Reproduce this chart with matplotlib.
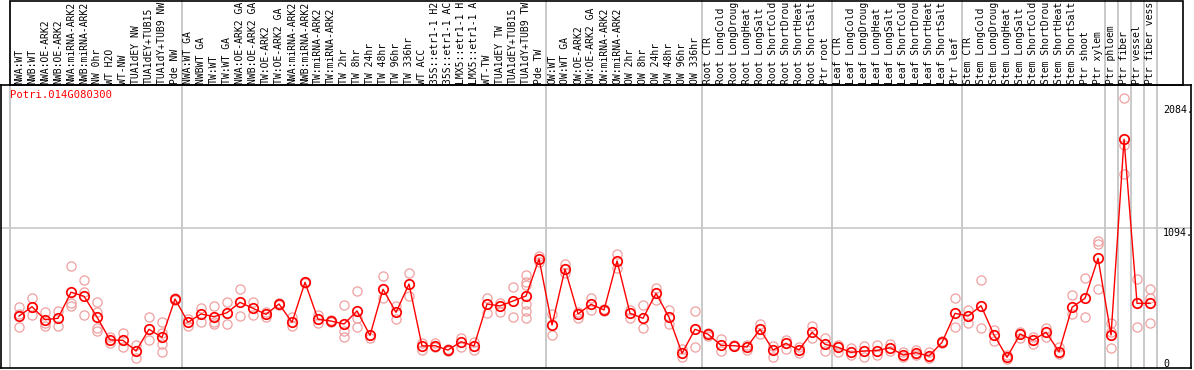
"""
Potri.014G080300 expression profile across poplar samples
(mean line + replicate circles, eFP-style pixel layout)
"""
import matplotlib
matplotlib.use('Agg')
import matplotlib.pyplot as plt
import matplotlib.transforms as mtransforms
from matplotlib.patches import Rectangle

matplotlib.rcParams['font.family'] = 'DejaVu Sans Mono'
matplotlib.rcParams['font.size'] = 7.2

GENE = "Potri.014G080300"

samples = [
    "NWA:WT", "NWB:WT", "NWA:OE-ARK2", "NWB:OE-ARK2", "NWA:miRNA-ARK2",
    "NWB:miRNA-ARK2", "NW 0hr", "WT H2O", "WT-NW", "TUA1dEY NW",
    "TUA1dEY+TUB15 NW", "TUA1dY+TUB9 NW", "Pde NW",
    "NWA:WT GA", "NWBWT GA", "TW:WT", "TW:WT GA", "NWA:OE-ARK2 GA",
    "NWB:OE-ARK2 GA", "TW:OE-ARK2", "TW:OE-ARK2 GA", "NWA:miRNA-ARK2",
    "NWB:miRNA-ARK2", "TW:miRNA-ARK2", "TW:miRNA-ARK2", "TW 2hr", "TW 8hr",
    "TW 24hr", "TW 48hr", "TW 96hr", "TW 336hr", "WT ACC",
    "35S::etr1-1 H2O", "35S::etr1-1 ACC", "LMX5::etr1-1 H2O",
    "LMX5::etr1-1 ACC", "WT-TW", "TUA1dEY TW", "TUA1dEY+TUB15 TW",
    "TUA1dY+TUB9 TW", "Pde TW",
    "OW:WT", "OW:WT GA", "OW:OE-ARK2", "OW:OE-ARK2 GA", "OW:miRNA-ARK2",
    "OW:miRNA-ARK2", "OW 2hr", "OW 8hr", "OW 24hr", "OW 48hr", "OW 96hr",
    "OW 336hr",
    "Root CTR", "Root LongCold", "Root LongDrought", "Root LongHeat",
    "Root LongSalt", "Root ShortCold", "Root ShortDrought", "Root ShortHeat",
    "Root ShortSalt", "Ptr root",
    "Leaf CTR", "Leaf LongCold", "Leaf LongDrought", "Leaf LongHeat",
    "Leaf LongSalt", "Leaf ShortCold", "Leaf ShortDrought", "Leaf ShortHeat",
    "Leaf ShortSalt", "Ptr leaf",
    "Stem CTR", "Stem LongCold", "Stem LongDrought", "Stem LongHeat",
    "Stem LongSalt", "Stem ShortCold", "Stem ShortDrought", "Stem ShortHeat",
    "Stem ShortSalt", "Ptr shoot", "Ptr xylem",
    "Ptr phloem", "Ptr fiber", "Ptr vessel", "Ptr fiber vessel",
]

mean_expr = [
    389, 464, 360, 371, 580, 548, 381, 197, 194, 108, 283, 218, 526,
    339, 406, 384, 416, 499, 451, 403, 486, 339, 660, 363, 349, 325, 430,
    234, 604, 419, 646, 149, 151, 116, 183, 149, 486, 470, 510, 550, 847,
    317, 767, 406, 483, 438, 831, 411, 371, 572, 379, 90, 283,
    243, 154, 151, 141, 283, 116, 170, 116, 259, 162,
    138, 98, 108, 112, 135, 76, 95, 68, 178, 411,
    389, 472, 237, 58, 243, 197, 259, 103, 459, 532, 853,
    237, 1808, 491, 491,
]

replicates = [
    [459, 299, 409], [532, 395], [424, 331, 309], [432, 309],
    [791, 491, 470], [679, 585, 397], [499, 424, 291, 271], [218, 170],
    [251, 143], [157, 55], [379, 197], [339, 255, 165, 103], [520, 532],
    [365, 312], [456, 344], [470, 344, 325], [499, 325], [606, 389],
    [499, 397], [419, 384], [476, 496], [379, 309], [655, 665], [397, 336],
    [340, 356], [478, 271, 218], [593, 371, 304], [210, 240], [711, 532],
    [470, 365], [737, 550], [170, 116], [170, 138], [110, 122], [210, 138],
    [183, 116], [536, 416], [496, 419], [625, 379],
    [719, 665, 638, 486, 432, 371], [871, 823],
    [406, 237], [807, 735], [424, 373], [532, 438], [430, 446], [887, 772],
    [438, 371], [478, 291], [617, 518], [438, 325], [122, 58], [430, 138],
    [255, 229], [205, 108], [146, 156], [157, 116], [325, 245], [149, 63],
    [197, 122], [138, 92], [309, 210], [210, 111],
    [103, 157], [130, 76], [149, 58], [157, 74], [165, 108], [98, 58],
    [116, 76], [98, 50], [170, 186], [532, 304],
    [438, 331], [679, 291], [277, 191], [42, 76], [263, 210], [218, 165],
    [291, 223], [143, 84], [558, 406], [692, 384], [994, 965, 604],
    [331, 263, 130], [2138, 1763, 1527], [684, 299], [604, 532, 331],
]

# group separators (between sample indices)
group_breaks = [-0.7, 12.5, 40.5, 52.5, 62.5, 72.5, 83.5, 84.5, 85.5, 86.5, 87.5]
y_ticks = [2084, 1094, 0]

# the label strip only has room for 14 characters
MAX_CHARS = 14

W, H = 1194, 370
fig = plt.figure(figsize=(W / 100, H / 100), dpi=100)
# plot box in pixels: x 1..1191, y 85..368 (from top)
ax = fig.add_axes([1 / W, (H - 368) / H, 1190 / W, 283 / H])
ax.set_xlim(-1.385, 90.15)
ax.set_ylim(-28, 2244)
ax.set_xticks([])
ax.set_yticks([])
for s in ax.spines.values():
    s.set_color('black')
    s.set_linewidth(1.2)

# gray separators run through the label area too
trans = mtransforms.blended_transform_factory(ax.transData, ax.transAxes)
for b in group_breaks:
    ax.plot([b, b], [0, 1.31], color='#c0c0c0', lw=1.2, transform=trans,
            clip_on=False, zorder=1)
ax.axhline(1094, color='#c8c8c8', lw=1.2, zorder=1)

# label box above the plot
fig.patches.append(Rectangle((10 / W, (H - 85) / H), 1173 / W, 84.5 / H,
                             transform=fig.transFigure, fill=False,
                             edgecolor='black', lw=1.2))

xs = list(range(len(samples)))
for i, reps in enumerate(replicates):
    ax.plot([i] * len(reps), reps, 'o', ms=6.6, mfc='none', mec='#f0a0a0',
            mew=0.9, zorder=2)
ax.plot(xs, mean_expr, '-', color='red', lw=1.0, zorder=3)
ax.plot(xs, mean_expr, 'o', ms=6.8, mfc='none', mec='red', mew=1.25, zorder=4)

for i, name in enumerate(samples):
    ax.text(i, 1.0 + 1.5 / 283, name[:MAX_CHARS].rstrip(), rotation=90,
            ha='center', va='bottom', transform=trans, clip_on=False,
            fontsize=7.0)

ax.text(-0.7, 2200, GENE, color='red', ha='left', va='top', fontsize=7.6)

for v in y_ticks:
    yy = v if v > 0 else 44
    ax.text(88.0, yy, f"{v}." if v > 0 else "0", ha='left', va='top',
            fontsize=7.2)

fig.savefig('out.png', dpi=100)
